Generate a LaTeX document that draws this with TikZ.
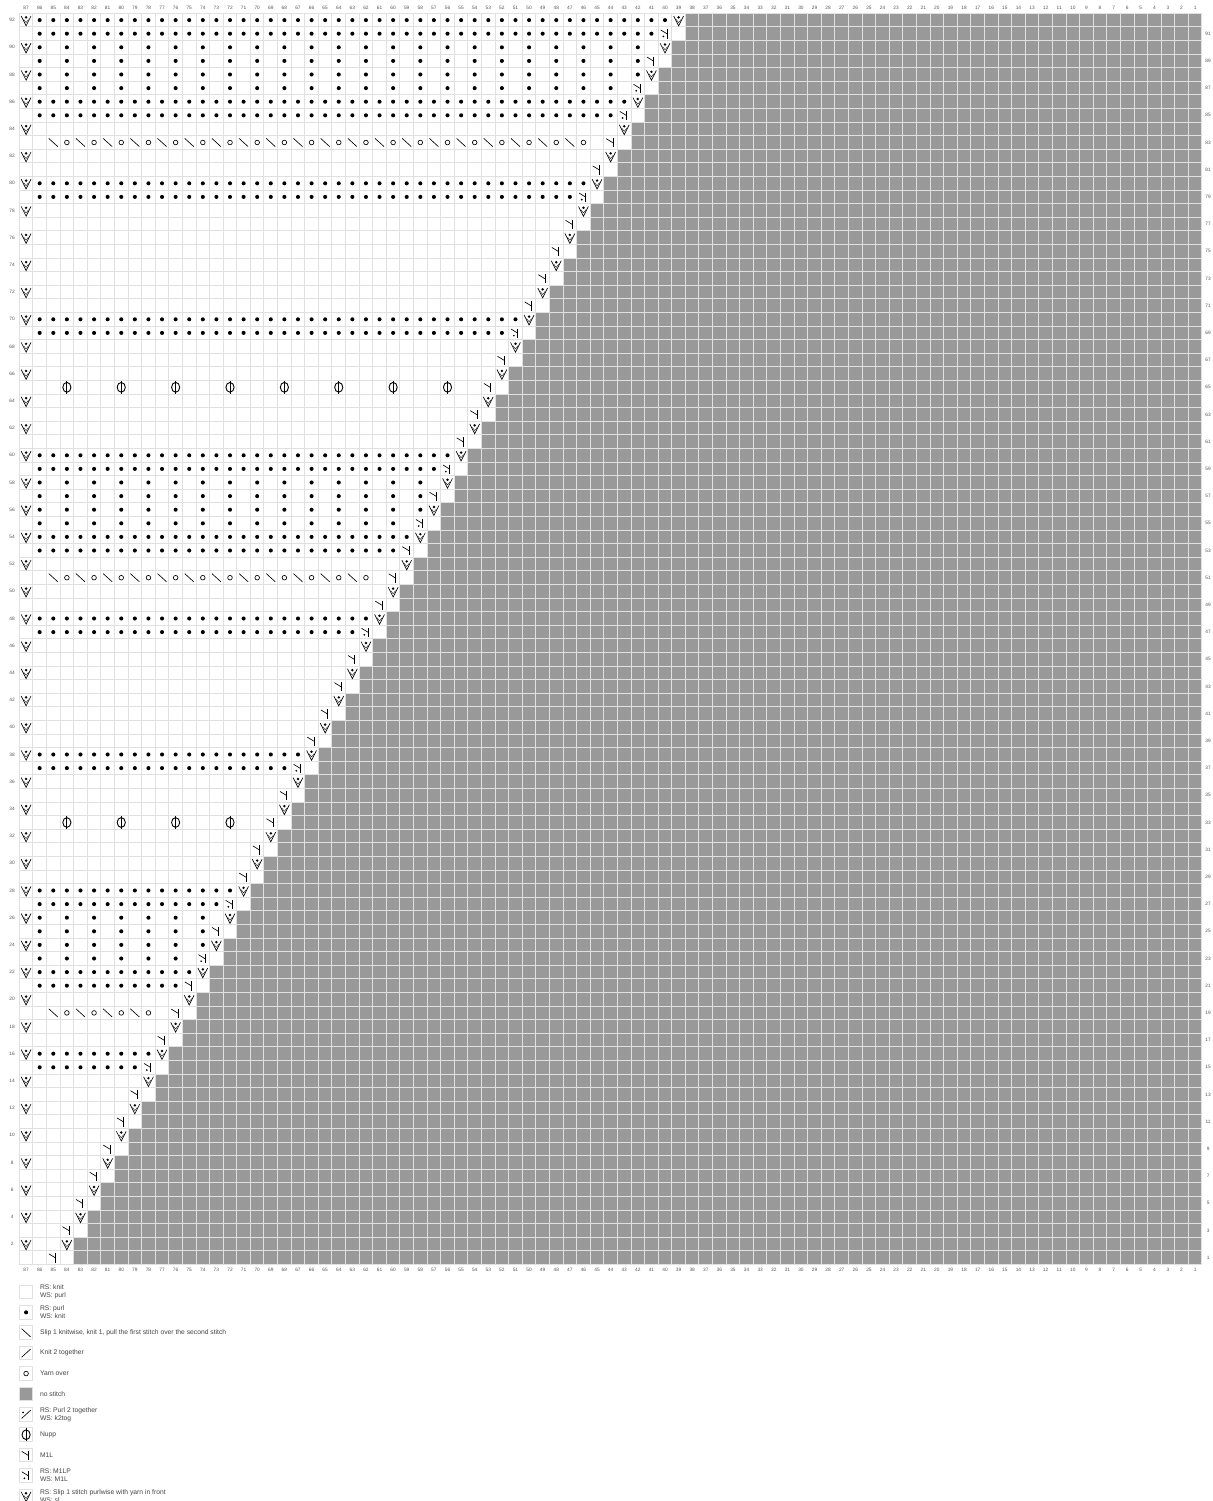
\documentclass[tikz,border=0pt]{standalone}
\usepackage{fontspec}
\setmainfont{Liberation Sans}
\usepackage{tikz}
\usetikzlibrary{positioning}

\definecolor{gridline}{HTML}{E0E0E0}
\definecolor{nostitch}{HTML}{999999}
\definecolor{labeltext}{HTML}{555555}
\definecolor{legendtext}{HTML}{444444}

\tikzset{
    symline/.style={line width=0.65pt, black},
    purl/.pic={\fill[black] (0,0) circle (0.15);},
    knitbar/.pic={\draw[symline] (-0.33,0.3) -- (0.33,-0.3);},
    ktog/.pic={\draw[symline] (-0.33,-0.3) -- (0.33,0.3);},
    yarnover/.pic={\draw[line width=0.65pt, black] (0,0) circle (0.17);},
    ptog/.pic={\draw[symline] (-0.33,-0.3) -- (0.33,0.3); \fill[black] (-0.22,0.14) circle (0.07);},
    nupp/.pic={\draw[line width=0.9pt, black] (0,0) ellipse (0.3 and 0.36); \draw[line width=0.9pt, black] (0,-0.47) -- (0,0.47);},
    mleft/.pic={\draw[symline] (-0.32,0.28) -- (0.17,-0.02); \draw[symline] (0.17,0.32) -- (0.17,-0.36);},
    mdot/.pic={\fill[black] (-0.12,-0.2) circle (0.07);},
    slip/.pic={\draw[symline] (-0.36,0.3) -- (0,-0.42) -- (0.36,0.3); \draw[line width=0.35pt, black] (-0.18,0.05) -- (0,-0.18) -- (0.18,0.05); \fill[black] (0,0.2) circle (0.1);}
}

\begin{document}
\begin{tikzpicture}[x=13.594pt, y=13.6pt,
        numlabel/.style={font=\fontsize{4.8pt}{5pt}\selectfont, text=labeltext, inner sep=0pt},
        swatch/.style={draw=gridline, line width=1pt, fill=white, minimum size=13.6pt, inner sep=0pt, outer sep=0pt},
        legendtext/.style={font=\fontsize{6.75pt}{8pt}\selectfont, text=legendtext, inner sep=0pt, align=left, right=7pt of #1}]

    \useasboundingbox (-1.92,-16.89) rectangle (87.24,93.48);
    \fill[white] (-1.92,-16.89) rectangle (87.24,93.48);

    % no stitch staircase
    \foreach \k in {1,...,46} {
        \fill[nostitch] ({2.5+\k},{2*\k-1.5}) rectangle (86.5,{2*\k+0.5});
    }

    % grid
    \foreach \x in {0,...,87} {
        \draw[gridline, line width=1pt] ({\x-0.5},0.5) -- ({\x-0.5},92.5);
    }
    \foreach \y in {0,...,92} {
        \draw[gridline, line width=1pt] (-0.5,{\y+0.5}) -- (86.5,{\y+0.5});
    }

    % numbers round the chart
    \foreach \c [evaluate=\c as \x using int(87-\c)] in {1,...,87} {
        \node[numlabel] (top\c) at (\x,92.88) {\c};
        \node[numlabel] (bot\c) at (\x,0.08) {\c};
    }
    \foreach \r in {2,4,...,92} {
        \node[numlabel] (left\r) at (-1.03,\r) {\r};
    }
    \foreach \r in {1,3,...,91} {
        \node[numlabel] (right\r) at (86.95,\r) {\r};
    }

    % edge stitches and increases
    \foreach \k in {1,...,46} {
        \pic at (0,{2*\k}) {slip};
        \pic at ({2+\k},{2*\k}) {slip};
        \pic at ({1+\k},{2*\k-1}) {mleft};
    }
    \foreach \k in {8,12,14,19,24,28,30,35,40,43,44,46} {
        \pic at ({1+\k},{2*\k-1}) {mdot};
    }

    % purl rows
    \foreach \r in {15,16,21,22,27,28,37,38,47,48,53,54,59,60,69,70,79,80,85,86,91,92} {
        \pgfmathtruncatemacro{\last}{floor(\r/2)+1}
        \foreach \x in {1,...,\last} {
            \pic at (\x,\r) {purl};
        }
    }
    \foreach \r in {23,24,25,26,55,56,57,58,87,88,89,90} {
        \pgfmathtruncatemacro{\last}{floor(\r/2)+1}
        \foreach \x in {1,3,...,\last} {
            \pic at (\x,\r) {purl};
        }
    }

    % lace rows
    \foreach \r/\last in {19/8,51/24,83/40} {
        \foreach \x in {2,4,...,\last} {
            \pic at (\x,\r) {knitbar};
            \pic at ({\x+1},\r) {yarnover};
        }
    }

    % nupps
    \foreach \r/\last in {33/15,65/31} {
        \foreach \x in {3,7,...,\last} {
            \pic at (\x,\r) {nupp};
        }
    }

    % legend
    \node[swatch] (lgknit) at (0,-1.52) {};
    \node[swatch, below=6.8pt of lgknit] (lgpurl) {};
    \node[swatch, below=6.8pt of lgpurl] (lgssk) {};
    \node[swatch, below=6.8pt of lgssk] (lgktog) {};
    \node[swatch, below=6.8pt of lgktog] (lgyo) {};
    \node[swatch, fill=nostitch, below=6.8pt of lgyo] (lgnone) {};
    \node[swatch, below=6.8pt of lgnone] (lgptog) {};
    \node[swatch, below=6.8pt of lgptog] (lgnupp) {};
    \node[swatch, below=6.8pt of lgnupp] (lgmleft) {};
    \node[swatch, below=6.8pt of lgmleft] (lgmlp) {};
    \node[swatch, below=6.8pt of lgmlp] (lgslip) {};

    \pic at (lgpurl) {purl};
    \pic at (lgssk) {knitbar};
    \pic at (lgktog) {ktog};
    \pic at (lgyo) {yarnover};
    \pic at (lgptog) {ptog};
    \pic at (lgnupp) {nupp};
    \pic at (lgmleft) {mleft};
    \pic at (lgmlp) {mleft};
    \pic at (lgmlp) {mdot};
    \pic at (lgslip) {slip};

    \node[legendtext=lgknit] (txknit) {RS: knit\\WS: purl};
    \node[legendtext=lgpurl] (txpurl) {RS: purl\\WS: knit};
    \node[legendtext=lgssk] (txssk) {Slip 1 knitwise, knit 1, pull the first stitch over the second stitch};
    \node[legendtext=lgktog] (txktog) {Knit 2 together};
    \node[legendtext=lgyo] (txyo) {Yarn over};
    \node[legendtext=lgnone] (txnone) {no stitch};
    \node[legendtext=lgptog] (txptog) {RS: Purl 2 together\\WS: k2tog};
    \node[legendtext=lgnupp] (txnupp) {Nupp};
    \node[legendtext=lgmleft] (txmleft) {M1L};
    \node[legendtext=lgmlp] (txmlp) {RS: M1LP\\WS: M1L};
    \node[legendtext=lgslip] (txslip) {RS: Slip 1 stitch purlwise with yarn in front\\WS: sl};
\end{tikzpicture}
\end{document}
